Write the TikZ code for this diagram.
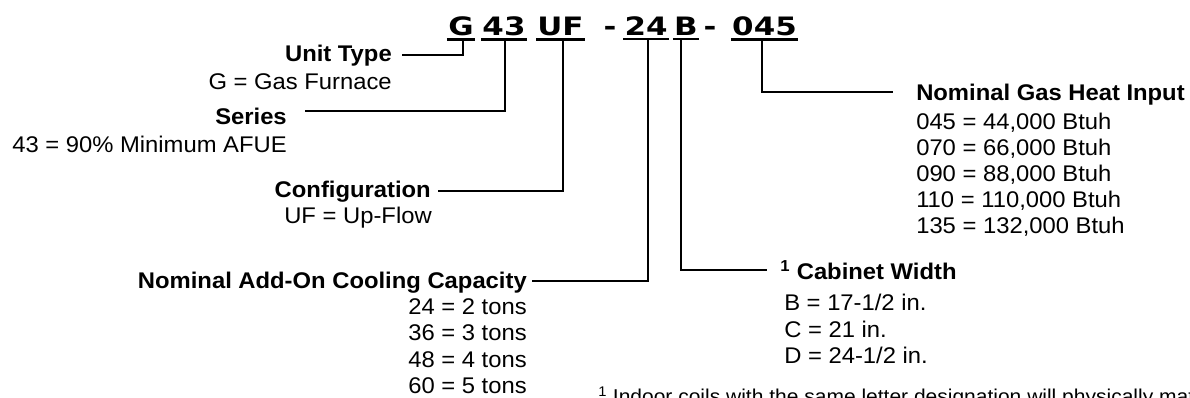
\documentclass[tikz,border=0pt]{standalone}
\usepackage{fontspec}
\setmainfont{Liberation Sans}[FakeStretch=1.05]
\newfontfamily\codefont{DejaVu Sans}[FakeStretch=1.22]
\begin{document}
\begin{tikzpicture}[x=0.75pt,y=-0.75pt,
  font=\fontsize{17}{19.5}\selectfont,
  codeseg/.style={font=\codefont\bfseries\fontsize{19}{20}\selectfont,anchor=base,inner xsep=1pt,inner ysep=3pt,outer sep=0pt},
  uline/.style={line width=2pt},
  conn/.style={line width=1.3pt},
  headR/.style={font=\fontsize{17}{19.5}\selectfont\bfseries,anchor=base east,inner sep=0pt},
  headL/.style={font=\fontsize{17}{19.5}\selectfont\bfseries,anchor=base west,inner sep=0pt},
  itemR/.style={anchor=base east,inner sep=0pt},
  itemL/.style={anchor=base west,inner sep=0pt}]
\clip (0,0) rectangle (1190,397);
\fill[white] (0,0) rectangle (1190,397);
% code segments
\node[codeseg] (cG) at (461,35) {G};
\node[codeseg] (c43) at (504,35) {43};
\node[codeseg] (cUF) at (560.5,35) {UF};
\node[codeseg] (d1) at (610,35) {-};
\node[codeseg] (c24) at (646,35) {24};
\node[codeseg] (cB) at (686,35) {B};
\node[codeseg] (d2) at (710,35) {-};
\node[codeseg] (c045) at (764.5,35) {045};
\foreach \s in {cG,c43,cUF,c24,cB,c045}
  \draw[uline] (\s.south west) -- (\s.south east);
% headings
\node[headR] (unit) at (392,61.5) {Unit Type};
\node[itemR] (unitv) at (392,89.5) {G = Gas Furnace};
\node[headR] (series) at (287,124.5) {Series};
\node[itemR] (seriesv) at (287,152.5) {43 = 90\% Minimum AFUE};
\node[headR] (conf) at (431,197.5) {Configuration};
\node[itemR] (confv) at (432,223.5) {UF = Up-Flow};
\node[headR] (cool) at (527,288.5) {Nominal Add-On Cooling Capacity};
\foreach \t [count=\i from 0] in {24 = 2 tons,36 = 3 tons,48 = 4 tons,60 = 5 tons}
  \node[itemR] (cool\i) at (527,314.5+26.3*\i) {\t};
\node[headL] (gas) at (916,100.5) {Nominal Gas Heat Input};
\foreach \t [count=\i from 0] in {{045 = 44,000 Btuh},{070 = 66,000 Btuh},{090 = 88,000 Btuh},{110 = 110,000 Btuh},{135 = 132,000 Btuh}}
  \node[itemL] (gas\i) at (916,129.5+26*\i) {\t};
\node[headL] (cab) at (780,279.5) {\textsuperscript{1} Cabinet Width};
\foreach \t [count=\i from 0] in {B = 17-1/2 in.,C = 21 in.,D = 24-1/2 in.}
  \node[itemL] (cab\i) at (784,310.5+26.5*\i) {\t};
\node[itemL,font=\fontsize{15}{18}\selectfont] (foot) at (598,403) {\textsuperscript{1} Indoor coils with the same letter designation will physically match};
% connectors
\draw[conn] ([xshift=1.5pt]cG.south) |- ([shift={(10,-6.5)}]unit.base east);
\draw[conn] ([xshift=0.75pt]c43.south) |- ([shift={(18,-13.5)}]series.base east);
\draw[conn] ([xshift=1.9pt]cUF.south) |- ([shift={(7,-6.5)}]conf.base east);
\draw[conn] ([xshift=1.5pt]c24.south) |- ([shift={(5,-7.5)}]cool.base east);
\draw[conn] ([xshift=-3.75pt]cB.south) |- ([shift={(-13,-9.5)}]cab.base west);
\draw[conn] ([xshift=-1.9pt]c045.south) |- ([shift={(-23,-8.5)}]gas.base west);
\end{tikzpicture}
\end{document}
